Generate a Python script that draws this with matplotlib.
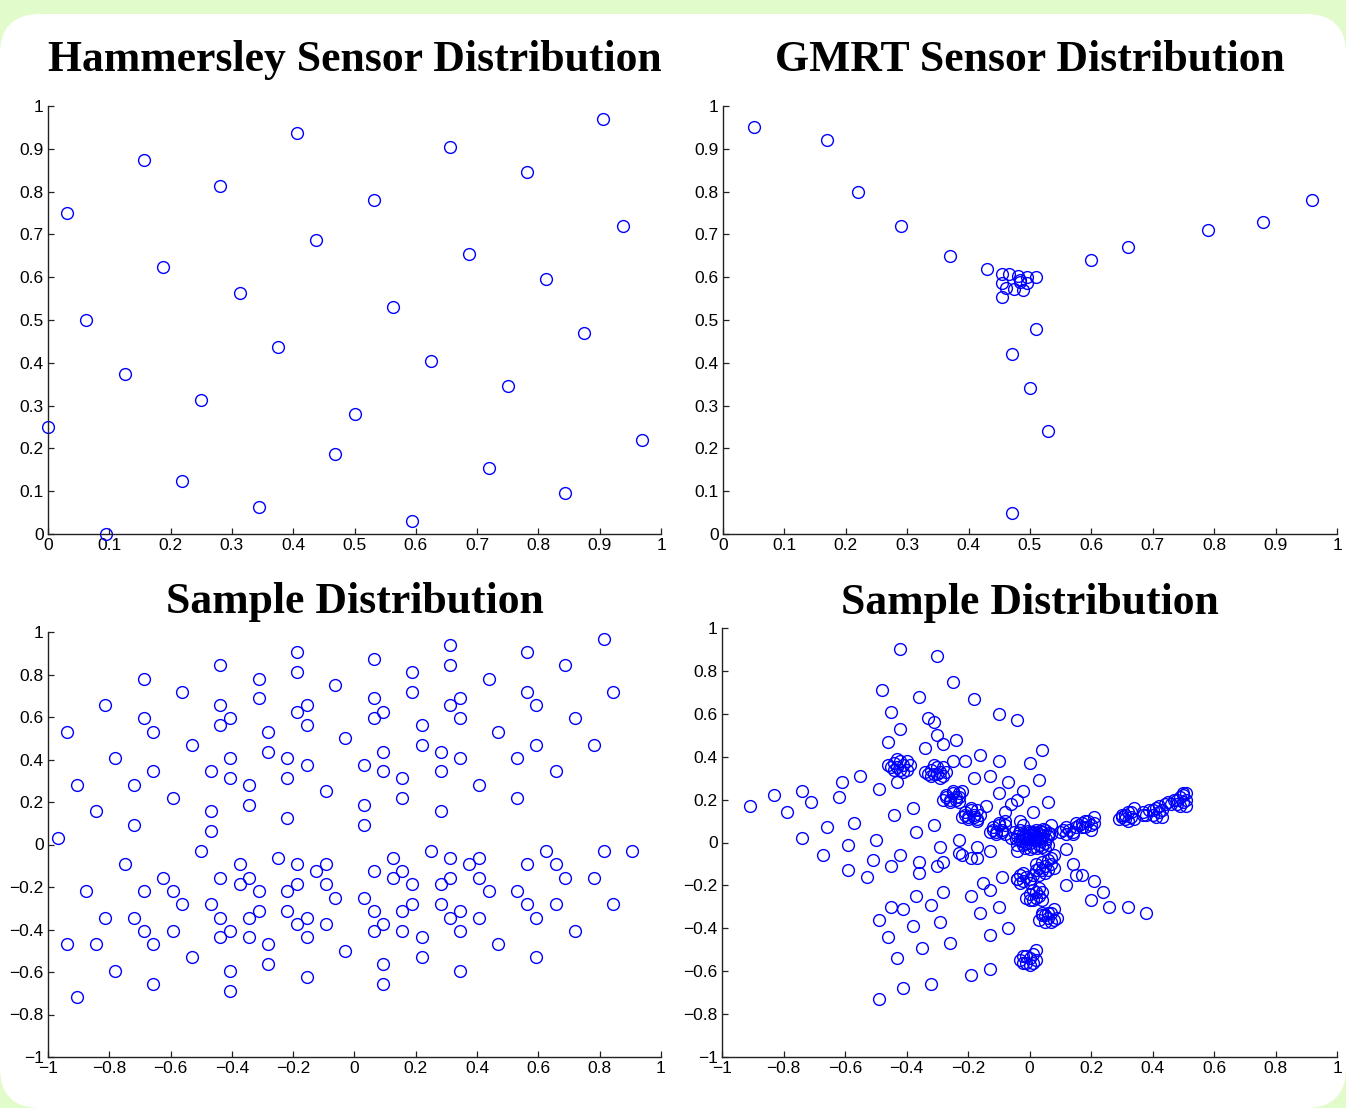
import numpy as np
import matplotlib.pyplot as plt
from matplotlib.patches import FancyBboxPatch
from matplotlib.ticker import FuncFormatter

# --- данные: Hammersley ---------------------------------------------
ham_x = [0.0, 0.031, 0.0625, 0.094, 0.125, 0.156, 0.1875, 0.219, 0.25, 0.281,
         0.3125, 0.344, 0.375, 0.406, 0.4375, 0.469, 0.5, 0.531, 0.5625, 0.594,
         0.625, 0.656, 0.6875, 0.719, 0.75, 0.781, 0.8125, 0.844, 0.875, 0.906,
         0.9375, 0.969]
ham_y = [0.25, 0.75, 0.5, 0.0, 0.375, 0.875, 0.625, 0.125, 0.3125, 0.8125,
         0.5625, 0.0625, 0.4375, 0.9375, 0.6875, 0.1875, 0.28, 0.78, 0.53, 0.03,
         0.405, 0.905, 0.655, 0.155, 0.345, 0.845, 0.595, 0.095, 0.47, 0.97,
         0.72, 0.22]

# --- данные: GMRT ---------------------------------------------------
gmrt_x = [0.05, 0.17, 0.22, 0.29, 0.37, 0.43, 0.455, 0.465, 0.481, 0.495, 0.51,
          0.455, 0.483, 0.484, 0.495, 0.461, 0.474, 0.489, 0.454,
          0.51, 0.47, 0.50, 0.53, 0.47, 0.60, 0.66, 0.79, 0.88, 0.96]
gmrt_y = [0.95, 0.92, 0.80, 0.72, 0.65, 0.62, 0.607, 0.607, 0.603, 0.601, 0.601,
          0.587, 0.593, 0.589, 0.586, 0.574, 0.572, 0.570, 0.554,
          0.48, 0.42, 0.34, 0.24, 0.05, 0.64, 0.67, 0.71, 0.73, 0.78]

# --- данные: Sample Distribution (слева) ------------------------------
samp1_x = [0.8125, 0.3125, -0.1875, 0.5625, 0.0625, -0.4375, 0.3125, 0.6875,
           -0.1875, 0.1875, -0.6875, -0.3125, 0.4375, -0.0625, -0.5625, 0.1875,
           0.5625, 0.84375, -0.3125, 0.0625, 0.34375, -0.8125, -0.4375, -0.15625,
           0.3125, 0.59375, -0.1875, 0.09375, -0.6875, -0.40625, 0.0625, 0.34375,
           0.71875, -0.4375, -0.15625, 0.21875, -0.9375, -0.65625, -0.28125,
           0.46875, -0.03125, -0.53125, 0.21875, 0.59375, 0.78125, -0.28125,
           0.09375, 0.28125, -0.78125, -0.40625, -0.21875, 0.34375, 0.53125,
           -0.15625, 0.03125, -0.65625, -0.46875, 0.09375, 0.28125, 0.65625,
           -0.40625, -0.21875, 0.15625, -0.90625, -0.71875, -0.34375, 0.40625,
           -0.09375, -0.59375, 0.15625, 0.53125, -0.34375, 0.03125, -0.84375,
           -0.46875, 0.28125, -0.21875, -0.71875, 0.03125, -0.46875, -0.96875,
           # нижняя половина
           -0.5, 0.25, 0.625, 0.8125, 0.90625, -0.25, 0.125, 0.3125, 0.40625,
           -0.75, -0.375, -0.1875, -0.09375, 0.375, 0.5625, 0.65625,
           -0.125, 0.0625, 0.15625,
           -0.625, -0.4375, -0.34375, 0.125, 0.3125, 0.40625, 0.6875, 0.78125,
           -0.375, -0.1875, -0.09375, 0.1875, 0.28125,
           -0.875, -0.6875, -0.59375, -0.3125, -0.21875, 0.4375, 0.53125,
           -0.0625, 0.03125,
           -0.5625, -0.46875, 0.1875, 0.28125, 0.5625, 0.65625, 0.84375,
           -0.3125, -0.21875, 0.0625, 0.15625, 0.34375,
           -0.8125, -0.71875, -0.4375, -0.34375, -0.15625, 0.3125, 0.40625, 0.59375,
           -0.1875, -0.09375, 0.09375,
           -0.6875, -0.59375, -0.40625, 0.0625, 0.15625, 0.34375, 0.71875,
           -0.4375, -0.34375, -0.15625, 0.21875,
           -0.9375, -0.84375, -0.65625, -0.28125, 0.46875,
           -0.03125, -0.53125, 0.21875, 0.59375, -0.28125, 0.09375,
           -0.78125, -0.40625, 0.34375, -0.15625, -0.65625, 0.09375, -0.40625,
           -0.90625]
samp1_y = [0.96875, 0.9375, 0.906, 0.906, 0.875, 0.844, 0.844, 0.844,
           0.8125, 0.8125, 0.781, 0.781, 0.781, 0.75, 0.719, 0.719,
           0.719, 0.719, 0.6875, 0.6875, 0.6875, 0.656, 0.656, 0.656,
           0.656, 0.656, 0.625, 0.625, 0.594, 0.594, 0.594, 0.594,
           0.594, 0.5625, 0.5625, 0.5625, 0.531, 0.531, 0.531,
           0.531, 0.5, 0.469, 0.469, 0.469, 0.469, 0.4375,
           0.4375, 0.4375, 0.406, 0.406, 0.406, 0.406, 0.406,
           0.375, 0.375, 0.344, 0.344, 0.344, 0.344, 0.344,
           0.3125, 0.3125, 0.3125, 0.281, 0.281, 0.281, 0.281,
           0.25, 0.219, 0.219, 0.219, 0.1875, 0.1875, 0.156,
           0.156, 0.156, 0.125, 0.094, 0.094, 0.0625, 0.031,
           -0.031, -0.031, -0.031, -0.031, -0.031, -0.0625, -0.0625, -0.0625, -0.0625,
           -0.094, -0.094, -0.094, -0.094, -0.094, -0.094, -0.094,
           -0.125, -0.125, -0.125,
           -0.156, -0.156, -0.156, -0.156, -0.156, -0.156, -0.156, -0.156,
           -0.1875, -0.1875, -0.1875, -0.1875, -0.1875,
           -0.219, -0.219, -0.219, -0.219, -0.219, -0.219, -0.219,
           -0.25, -0.25,
           -0.281, -0.281, -0.281, -0.281, -0.281, -0.281, -0.281,
           -0.3125, -0.3125, -0.3125, -0.3125, -0.3125,
           -0.344, -0.344, -0.344, -0.344, -0.344, -0.344, -0.344, -0.344,
           -0.375, -0.375, -0.375,
           -0.406, -0.406, -0.406, -0.406, -0.406, -0.406, -0.406,
           -0.4375, -0.4375, -0.4375, -0.4375,
           -0.469, -0.469, -0.469, -0.469, -0.469,
           -0.5, -0.531, -0.531, -0.531, -0.5625, -0.5625,
           -0.594, -0.594, -0.594, -0.625, -0.656, -0.656, -0.6875,
           -0.719]

# --- данные: Sample Distribution (справа) -----------------------------
samp2_scatter = [(-0.42, 0.90), (-0.30, 0.87), (-0.25, 0.75), (-0.48, 0.71), (-0.36, 0.68),
                 (-0.18, 0.67), (-0.45, 0.61), (-0.10, 0.60), (-0.04, 0.57), (-0.33, 0.58),
                 (-0.31, 0.56), (-0.42, 0.53), (-0.30, 0.50), (-0.46, 0.47), (-0.28, 0.46),
                 (-0.24, 0.48), (-0.34, 0.44), (0.04, 0.43), (-0.16, 0.41), (0.0, 0.37),
                 (-0.10, 0.38), (-0.21, 0.38), (-0.25, 0.38), (-0.43, 0.28), (-0.49, 0.25),
                 (-0.61, 0.28), (-0.55, 0.31), (-0.74, 0.24), (-0.83, 0.22), (-0.71, 0.19),
                 (-0.62, 0.21), (-0.91, 0.17), (-0.79, 0.14), (-0.66, 0.07), (-0.74, 0.02),
                 (-0.67, -0.06), (-0.59, -0.01), (-0.57, 0.09), (-0.44, 0.13), (-0.38, 0.16),
                 (-0.50, 0.01), (-0.37, 0.05), (-0.31, 0.08), (-0.51, -0.08), (-0.59, -0.13),
                 (-0.53, -0.16), (-0.45, -0.11), (-0.42, -0.06), (-0.36, -0.09), (-0.36, -0.14),
                 (-0.29, -0.02), (-0.30, -0.11), (-0.28, -0.09), (-0.23, 0.01), (-0.23, -0.05),
                 (-0.22, -0.06), (-0.19, -0.07), (-0.17, -0.02), (-0.17, -0.07), (-0.13, -0.04),
                 (-0.18, 0.30), (-0.13, 0.31), (-0.07, 0.28), (0.03, 0.29), (-0.02, 0.24),
                 (-0.10, 0.23), (0.06, 0.19), (-0.06, 0.18), (-0.04, 0.20), (0.01, 0.14),
                 (-0.08, 0.14), (-0.14, 0.17), (-0.08, 0.10), (-0.03, 0.10), (0.12, -0.03),
                 (0.14, -0.10), (0.15, -0.15), (0.17, -0.15), (0.12, -0.20), (0.21, -0.18),
                 (0.24, -0.23), (0.20, -0.27), (0.26, -0.30), (0.32, -0.30), (0.38, -0.33),
                 (-0.09, -0.16), (-0.15, -0.19), (-0.13, -0.22), (-0.19, -0.25), (-0.16, -0.33),
                 (-0.10, -0.30), (-0.07, -0.40), (-0.13, -0.43), (-0.26, -0.47), (-0.35, -0.49),
                 (-0.29, -0.37), (-0.38, -0.39), (-0.32, -0.29), (-0.28, -0.23), (-0.37, -0.25),
                 (-0.45, -0.30), (-0.41, -0.31), (-0.49, -0.36), (-0.46, -0.44), (-0.43, -0.54),
                 (-0.41, -0.68), (-0.49, -0.73), (-0.32, -0.66), (-0.19, -0.62), (-0.13, -0.59),
                 (-0.04, -0.17), (0.37, 0.13), (0.50, 0.23), (0.08, -0.06), (0.05, -0.03),
                 (-0.04, -0.04), (0.07, 0.08), (-0.02, 0.08)]

samp2_upper = [(-0.45, 0.35), (-0.44, 0.37), (-0.43, 0.35), (-0.42, 0.38), (-0.41, 0.36),
               (-0.40, 0.34), (-0.44, 0.34), (-0.42, 0.34), (-0.40, 0.38), (-0.46, 0.36),
               (-0.43, 0.39), (-0.39, 0.36), (-0.41, 0.33),
               (-0.33, 0.32), (-0.32, 0.34), (-0.31, 0.32), (-0.30, 0.35), (-0.29, 0.33),
               (-0.28, 0.31), (-0.32, 0.31), (-0.30, 0.32), (-0.28, 0.35), (-0.34, 0.33),
               (-0.31, 0.36), (-0.27, 0.33), (-0.29, 0.30),
               (-0.28, 0.20), (-0.27, 0.22), (-0.26, 0.20), (-0.25, 0.23), (-0.24, 0.21),
               (-0.23, 0.19), (-0.26, 0.19), (-0.24, 0.20), (-0.23, 0.23), (-0.27, 0.21),
               (-0.25, 0.24), (-0.22, 0.24), (-0.23, 0.21),
               (-0.22, 0.12), (-0.21, 0.14), (-0.20, 0.12), (-0.19, 0.15), (-0.18, 0.13),
               (-0.17, 0.11), (-0.20, 0.11), (-0.18, 0.12), (-0.17, 0.15), (-0.21, 0.13),
               (-0.19, 0.16), (-0.16, 0.13), (-0.17, 0.10),
               (-0.13, 0.05), (-0.12, 0.07), (-0.11, 0.05), (-0.10, 0.08), (-0.09, 0.06),
               (-0.08, 0.04), (-0.11, 0.04), (-0.09, 0.05), (-0.08, 0.08), (-0.12, 0.06),
               (-0.10, 0.09)]

samp2_center = [(-0.04, 0.03), (-0.03, 0.01), (-0.02, 0.04), (-0.01, 0.02), (0.0, 0.0),
                (0.01, 0.03), (0.02, 0.01), (0.03, 0.04), (0.04, 0.02), (0.05, 0.0),
                (-0.02, -0.01), (0.0, 0.05), (0.02, 0.06), (0.04, 0.05), (-0.05, 0.05),
                (0.06, 0.03), (0.01, -0.02), (0.03, -0.01), (-0.03, 0.06), (0.05, 0.06),
                (-0.01, 0.0), (0.02, 0.03), (0.0, 0.02), (0.03, 0.02), (-0.02, 0.02),
                (0.06, -0.01), (-0.04, -0.01), (0.01, 0.05), (0.04, -0.02), (-0.06, 0.02),
                (0.07, 0.04), (0.0, -0.03), (-0.005, 0.015), (0.015, 0.015), (0.025, 0.025),
                (0.035, 0.005), (-0.015, 0.035), (0.005, 0.035), (0.045, 0.035), (-0.035, 0.045),
                (0.055, 0.015), (-0.025, 0.005), (0.015, 0.045), (0.035, 0.055), (-0.045, 0.015),
                (0.065, 0.045), (-0.015, -0.025), (0.025, -0.025), (0.045, 0.065), (-0.005, 0.055)]

samp2_right = [(0.10, 0.05), (0.11, 0.06), (0.12, 0.04), (0.13, 0.06), (0.14, 0.05),
               (0.15, 0.07), (0.12, 0.07), (0.14, 0.04), (0.15, 0.09),
               (0.16, 0.08), (0.17, 0.09), (0.18, 0.07), (0.19, 0.10), (0.20, 0.08),
               (0.21, 0.09), (0.18, 0.10), (0.20, 0.06), (0.21, 0.12), (0.17, 0.07),
               (0.29, 0.11), (0.30, 0.13), (0.31, 0.11), (0.32, 0.14), (0.33, 0.12),
               (0.34, 0.11), (0.31, 0.13), (0.33, 0.14), (0.34, 0.16), (0.32, 0.10),
               (0.30, 0.12),
               (0.38, 0.13), (0.39, 0.15), (0.40, 0.13), (0.41, 0.16), (0.42, 0.14),
               (0.43, 0.12), (0.40, 0.15), (0.42, 0.17), (0.43, 0.15), (0.41, 0.12),
               (0.37, 0.14), (0.44, 0.18),
               (0.46, 0.18), (0.47, 0.20), (0.48, 0.18), (0.49, 0.21), (0.50, 0.19),
               (0.51, 0.17), (0.48, 0.20), (0.50, 0.22), (0.51, 0.20), (0.49, 0.17),
               (0.45, 0.19), (0.51, 0.23)]

samp2_down = [(0.02, -0.10), (0.03, -0.12), (0.04, -0.09), (0.05, -0.11), (0.06, -0.13),
              (0.07, -0.10), (0.04, -0.13), (0.06, -0.08), (0.03, -0.15), (0.05, -0.14),
              (0.08, -0.12), (0.02, -0.13), (0.07, -0.07),
              (-0.04, -0.17), (-0.03, -0.15), (-0.02, -0.18), (-0.01, -0.16), (0.0, -0.19),
              (0.01, -0.15), (-0.02, -0.14), (0.0, -0.17), (-0.03, -0.19),
              (-0.01, -0.26), (0.0, -0.24), (0.01, -0.27), (0.02, -0.23), (0.03, -0.25),
              (0.04, -0.27), (0.01, -0.22), (0.04, -0.23), (0.02, -0.26), (0.03, -0.21),
              (0.0, -0.27),
              (0.03, -0.36), (0.04, -0.34), (0.05, -0.37), (0.06, -0.35), (0.07, -0.33),
              (0.08, -0.36), (0.05, -0.34), (0.07, -0.37), (0.08, -0.31), (0.06, -0.33),
              (0.09, -0.35), (0.04, -0.33),
              (-0.03, -0.55), (-0.02, -0.53), (-0.01, -0.56), (0.0, -0.54), (0.01, -0.52),
              (0.02, -0.55), (-0.01, -0.53), (0.01, -0.56), (0.02, -0.50), (0.0, -0.57),
              (-0.02, -0.56)]

titles = ['Hammersley Sensor Distribution', 'GMRT Sensor Distribution',
          'Sample Distribution', 'Sample Distribution']

# --- оформление ------------------------------------------------------
W, H = 1346, 1108
fig = plt.figure(figsize=(W / 100, H / 100), dpi=100, facecolor='#e2fbcb')

# белая подложка со скруглёнными углами
panel = FancyBboxPatch((0, 0), W, H - 14, boxstyle='round,pad=0,rounding_size=40',
                       transform=None, facecolor='white', edgecolor='none', zorder=-10)
fig.patches.append(panel)


def px_axes(x0, x1, ytop, ybot):
    return fig.add_axes([x0 / W, 1 - ybot / H, (x1 - x0) / W, (ybot - ytop) / H])


axs = [px_axes(48, 661, 106, 534), px_axes(723, 1337, 106, 534),
       px_axes(48, 661, 632, 1057), px_axes(722, 1337, 628, 1057)]
title_pads = [25, 25, 14, 10]


def fmt(v, pos):
    if abs(v) < 1e-9:
        return '0'
    s = '%g' % round(v, 2)
    return s.replace('-', '\u2212')


for i, ax in enumerate(axs):
    ax.set_facecolor('none')
    for side in ['top', 'right']:
        ax.spines[side].set_visible(False)
    for side in ['left', 'bottom']:
        ax.spines[side].set_color('#222222')
        ax.spines[side].set_linewidth(1.0)
    ax.tick_params(direction='in', length=4, width=0.9, color='#222222', pad=3,
                   labelsize=12.5)
    if i < 2:
        ax.set_xlim(0, 1)
        ax.set_ylim(0, 1)
        ax.set_xticks(np.arange(0, 1.01, 0.1))
        ax.set_yticks(np.arange(0, 1.01, 0.1))
    else:
        ax.set_xlim(-1, 1)
        ax.set_ylim(-1, 1)
        ax.set_xticks(np.arange(-1, 1.01, 0.2))
        ax.set_yticks(np.arange(-1, 1.01, 0.2))
    ax.xaxis.set_major_formatter(FuncFormatter(fmt))
    ax.yaxis.set_major_formatter(FuncFormatter(fmt))
    for lab in ax.get_xticklabels() + ax.get_yticklabels():
        lab.set_fontfamily('Liberation Sans')
    ax.set_title(titles[i], family='Liberation Serif', weight='bold', size=31.5,
                 pad=title_pads[i])

mk = dict(linestyle='none', marker='o', markersize=8.5, markerfacecolor='none',
          markeredgecolor='#0000ff', markeredgewidth=1.0, clip_on=False)

axs[0].plot(ham_x, ham_y, **mk)
axs[1].plot(gmrt_x, gmrt_y, **mk)
axs[2].plot(samp1_x, samp1_y, **mk)
for group in [samp2_scatter, samp2_upper, samp2_center, samp2_right, samp2_down]:
    pts = np.array(group)
    axs[3].plot(pts[:, 0], pts[:, 1], **mk)

fig.savefig('out.png', dpi=100, facecolor=fig.get_facecolor())
